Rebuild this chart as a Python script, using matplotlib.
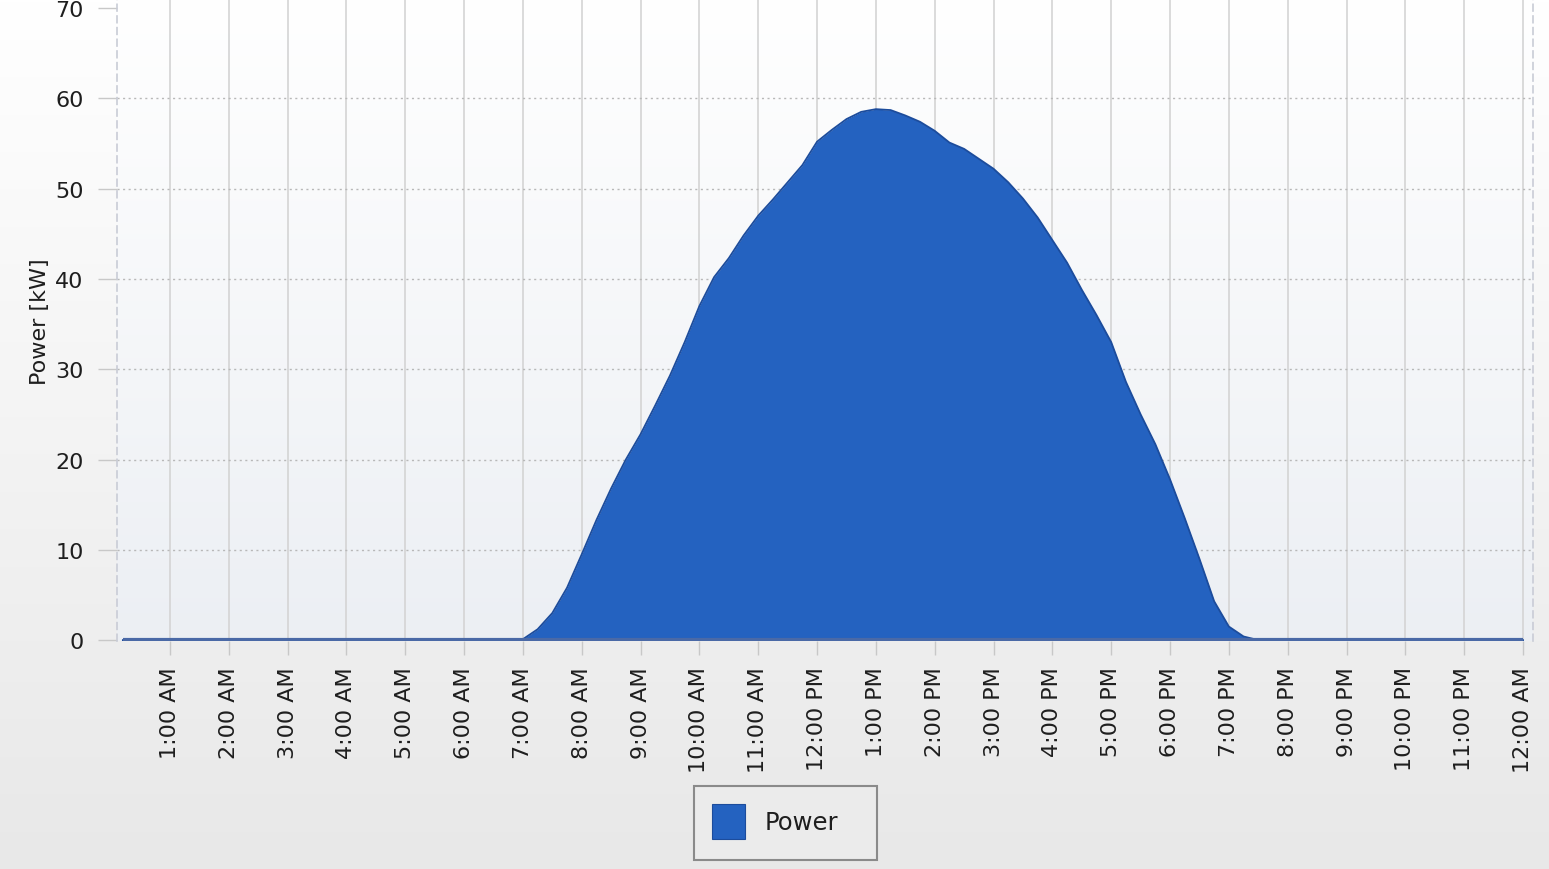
import numpy as np
import matplotlib
matplotlib.use("Agg")
import matplotlib.pyplot as plt
from matplotlib.patches import Rectangle

# ---- data (hours of day, kW) ----
hours = [0.2, 6.75, 7.0, 7.25, 7.5, 7.75, 8.0, 8.25, 8.5, 8.75, 9.0, 9.25, 9.5, 9.75,
         10.0, 10.25, 10.5, 10.75, 11.0, 11.25, 11.5, 11.75, 12.0, 12.25, 12.5, 12.75,
         13.0, 13.25, 13.5, 13.75, 14.0, 14.25, 14.5, 14.75, 15.0, 15.25, 15.5, 15.75,
         16.0, 16.25, 16.5, 16.75, 17.0, 17.25, 17.5, 17.75, 18.0, 18.25, 18.5, 18.75,
         19.0, 19.25, 19.5, 24.0]
power = [0.0, 0.0, 0.1, 1.2, 3.0, 5.8, 9.5, 13.3, 16.8, 20.0, 22.8, 26.0, 29.3, 33.0,
         37.0, 40.2, 42.3, 44.8, 47.0, 48.8, 50.7, 52.6, 55.2, 56.5, 57.7, 58.5,
         58.8, 58.7, 58.1, 57.4, 56.4, 55.1, 54.4, 53.3, 52.2, 50.7, 48.9, 46.8,
         44.3, 41.8, 38.8, 36.0, 33.0, 28.6, 25.0, 21.7, 17.8, 13.5, 9.0, 4.3,
         1.5, 0.4, 0.0, 0.0]
tick_hours = list(range(1, 25))
tick_labels = ["1:00 AM", "2:00 AM", "3:00 AM", "4:00 AM", "5:00 AM", "6:00 AM",
               "7:00 AM", "8:00 AM", "9:00 AM", "10:00 AM", "11:00 AM", "12:00 PM",
               "1:00 PM", "2:00 PM", "3:00 PM", "4:00 PM", "5:00 PM", "6:00 PM",
               "7:00 PM", "8:00 PM", "9:00 PM", "10:00 PM", "11:00 PM", "12:00 AM"]
y_ticks = [0, 10, 20, 30, 40, 50, 60, 70]
series_name = "Power"
y_label = "Power [kW]"

FILL = "#2462c0"
FS = 16
W, H = 1549, 870

plt.rcParams['font.family'] = ['DejaVu Sans']
fig = plt.figure(figsize=(15.49, 8.70), dpi=100)

# figure background gradient
bg = fig.add_axes([0, 0, 1, 1], zorder=-10)
grad = np.linspace(0, 1, 256).reshape(-1, 1)
top_c = np.array([1.0, 1.0, 1.0])
bot_c = np.array([0.91, 0.91, 0.91])
img = top_c * (1 - grad[..., None]) + bot_c * grad[..., None]
img = np.clip(np.concatenate([img] * 2, axis=1), 0, 1)
bg.imshow(img, aspect='auto', extent=[0, 1, 0, 1], origin='upper')
bg.axis('off')

ax = fig.add_axes([117 / W, (H - 642) / H, (1533 - 117) / W, 642 / H])
xmin, xmax = 0.1, 24.17
ymin, ymax = -0.1, 71.0
ax.set_xlim(xmin, xmax)
ax.set_ylim(ymin, ymax)

# plot area gradient
g2 = np.linspace(0, 1, 256).reshape(-1, 1)
pt = np.array([1.0, 1.0, 1.0]); pb = np.array([0.925, 0.937, 0.955])
img2 = pt * (1 - g2[..., None]) + pb * g2[..., None]
img2 = np.concatenate([img2] * 2, axis=1)
ax.imshow(img2, aspect='auto', extent=[xmin, xmax, ymin, ymax], origin='upper', zorder=0)

# grid
for h in tick_hours:
    ax.axvline(h, color='#d4d4d4', lw=1.2, zorder=1)
for y in y_ticks[1:-1]:
    ax.axhline(y, color='#b8b8b8', lw=1.0, ls=(0, (1.5, 2.5)), zorder=1)

ax.fill_between(hours, power, 0, color=FILL, lw=0, zorder=2)
ax.plot(hours, power, color='#1c4c9c', lw=1.3, zorder=3)
ax.plot([hours[0], hours[-1]], [0, 0], color='#4a69a6', lw=3, zorder=3,
        solid_capstyle='butt')

for s in ['top', 'bottom']:
    ax.spines[s].set_visible(False)
for s in ['left', 'right']:
    ax.spines[s].set_color('#c9ccd6')
    ax.spines[s].set_linestyle((0, (4, 3)))
    ax.spines[s].set_linewidth(1.2)

ax.set_xticks(tick_hours)
ax.set_xticklabels(tick_labels, rotation=90, fontsize=FS, color='#1e1e1e')
ax.set_yticks(y_ticks)
ax.set_yticklabels([str(v) for v in y_ticks], fontsize=FS, color='#1e1e1e')
ax.tick_params(axis='x', length=10, width=1, color='#c8c8c8', pad=8)
ax.tick_params(axis='y', length=14, width=1, color='#c8c8c8', pad=10)

fig.text(40 / W, (H - 322) / H, y_label, rotation=90, fontsize=FS,
         ha='center', va='center', color='#1e1e1e')

# legend (drawn as a box with a swatch and label, like the original)
fig.patches.append(Rectangle((694 / W, (H - 861) / H), (877 - 694) / W, (861 - 787) / H,
                             transform=fig.transFigure, facecolor='#ebebeb',
                             edgecolor='#8a8a8a', lw=1.5, zorder=5))
fig.patches.append(Rectangle((712 / W, (H - 840) / H), 33 / W, 35 / H,
                             transform=fig.transFigure, facecolor=FILL,
                             edgecolor='#1c4c9c', lw=0.8, zorder=6))
fig.text(765 / W, (H - 823) / H, series_name, fontsize=17.5, ha='left', va='center',
         color='#1e1e1e', zorder=7)

fig.savefig('out.png', dpi=100)
